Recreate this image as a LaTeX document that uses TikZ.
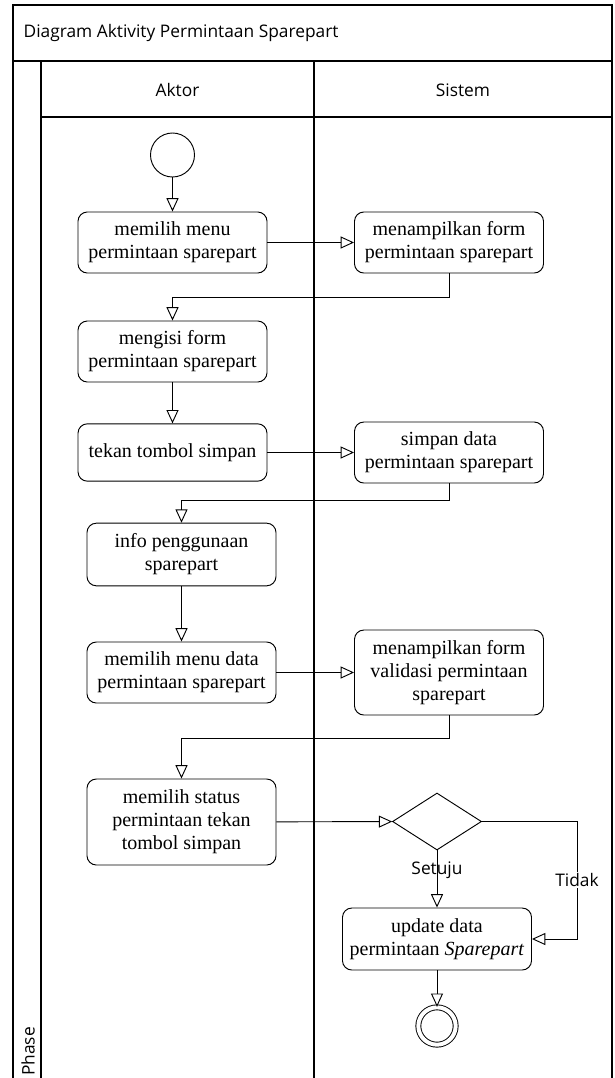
\documentclass[tikz,border=0pt]{standalone}
\usepackage{fontspec}
\setmainfont{Liberation Serif}
\newfontfamily\labelfont{Open Sans}
\usetikzlibrary{arrows.meta,shapes.geometric}
\tikzset{
  act/.style={draw, rounded corners=7pt, align=center, inner sep=2pt,
    minimum width=141.75pt, minimum height=45.75pt,
    font=\fontsize{15}{17.25}\selectfont, line width=0.7pt},
  flow/.style={-{Triangle[open,length=10pt,width=9pt]}, line width=0.7pt},
  lane/.style={line width=1.1pt},
  lbl/.style={font=\labelfont\fontsize{13}{15}\selectfont}
}
\begin{document}
\begin{tikzpicture}[x=0.75pt,y=-0.75pt]
  \def\colA{172.5}
  \def\colC{181.5}
  \def\colB{449}
  \def\colD{437}
  \fill[white] (0,0) rectangle (614,1078);
  \useasboundingbox (0,0) rectangle (614,1078);

  % frame and swimlanes
  \draw[lane] (13,1078) -- (13,5) -- (612,5) -- (612,1078);
  \draw[lane] (13,61) -- (612,61);% title bar
  \draw[lane] (41,61) -- (41,1078);% phase column
  \draw[lane] (41,117) -- (612,117);% lane headers
  \draw[lane] (314,61) -- (314,1078);% Aktor | Sistem

  \node[lbl, anchor=west] (title) at (19,33) {Diagram Aktivity Permintaan Sparepart};
  \node[lbl] (aktor) at (177.5,90) {Aktor};
  \node[lbl] (sistem) at (463,90) {Sistem};
  \node[lbl, rotate=90, anchor=west, inner sep=0] (phase) at (28,1076) {Phase};

  % actions
  \node[draw, circle, minimum size=33pt, inner sep=0, line width=0.7pt] (start) at (\colA,155) {};
  \node[act] (pilihmenu) at (\colA,242.5) {memilih menu\\permintaan sparepart};
  \node[act] (tampilform) at (\colB,242.5) {menampilkan form\\permintaan sparepart};
  \node[act] (isiform) at (\colA,351.5) {mengisi form\\permintaan sparepart};
  \node[act, minimum height=43pt] (tekan) at (\colA,452.5) {tekan tombol simpan};
  \node[act] (simpan) at (\colB,452.5) {simpan data\\permintaan sparepart};
  \node[act, minimum height=47pt] (info) at (\colC,554.5) {info penggunaan\\sparepart};
  \node[act] (pilihdata) at (\colC,672.5) {memilih menu data\\permintaan sparepart};
  \node[act, minimum height=63.75pt] (validasi) at (\colB,672.5) {menampilkan form\\validasi permintaan\\sparepart};
  \node[act, minimum height=64.5pt] (status) at (\colC,822) {memilih status\\permintaan tekan\\tombol simpan};
  \node[draw, diamond, minimum width=66.75pt, minimum height=42.75pt, inner sep=0, line width=0.7pt] (cek) at (\colD,821.5) {};
  \node[act, minimum height=46.5pt] (update) at (\colD,939) {update data\\permintaan \textit{Sparepart}};
  \node[draw, circle, double, double distance=3pt, minimum size=28pt, inner sep=0, line width=0.7pt] (stop) at (\colD,1026) {};

  % flows
  \draw[flow] (start) -- (pilihmenu);
  \draw[flow] (pilihmenu) -- (tampilform);
  \draw[flow] (tampilform.south) -- ++(0,24) -| (isiform.north);
  \draw[flow] (isiform) -- (tekan);
  \draw[flow] (tekan) -- (simpan);
  \draw[flow] (simpan.south) -- ++(0,17) -| (info.north);
  \draw[flow] (info) -- (pilihdata);
  \draw[flow] (pilihdata) -- (validasi);
  \draw[flow] (validasi.south) -- ++(0,23) -| (status.north);
  \draw[flow] (status) -- (cek);
  \draw[flow] (cek.south) -- (update.north) node[lbl, pos=0.35] {Setuju};
  \draw[flow] (cek.east) -- ++(95,0) |- (update.east) node[lbl, pos=0.25, fill=white, inner sep=1pt] {Tidak};
  \draw[flow] (update) -- (stop);
\end{tikzpicture}
\end{document}
